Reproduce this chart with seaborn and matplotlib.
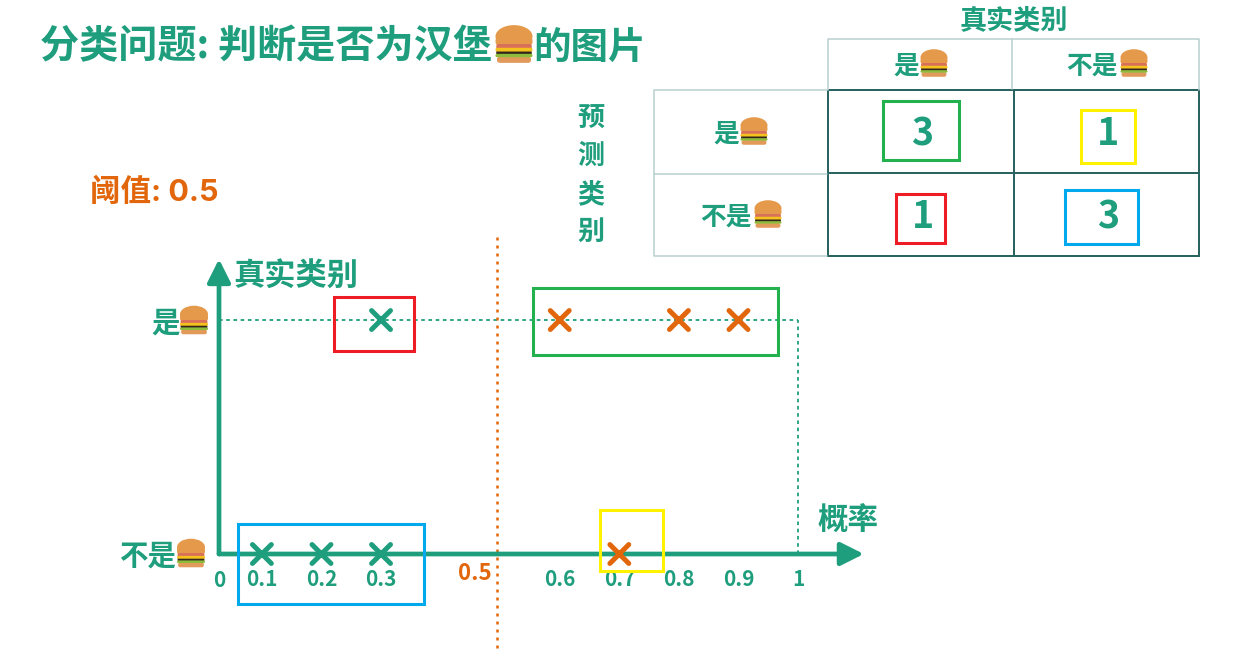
import pandas as pd
import seaborn as sns
import matplotlib.pyplot as plt
from matplotlib.colors import ListedColormap
from matplotlib.patches import Ellipse, FancyBboxPatch, Rectangle

# points
pos_probs = [0.3, 0.6, 0.8, 0.9]
neg_probs = [0.1, 0.2, 0.3, 0.7]
threshold = 0.5
threshold_line_x = 0.495
x_ticks = [0.1, 0.2, 0.3, 0.6, 0.7, 0.8, 0.9, 1.0]
x_tick_labels = ["0.1", "0.2", "0.3", "0.6", "0.7", "0.8", "0.9", "1"]
y_ticks = [0, 1]
y_tick_labels = ["不是", "是"]
confusion = [[3, 1], [1, 3]]
col_headers = ["是", "不是"]
row_headers = ["是", "不是"]

teal = "#1f9e7d"
orange = "#e2660b"
dark_line = "#2a6461"
light_line = "#b9cfcf"
red = "#ee1c25"
green = "#22b14c"
yellow = "#fff200"
blue = "#00a8ec"

W, H = 1246, 656

sns.set_theme(style="white")
plt.rcParams["font.family"] = ["Noto Sans CJK SC", "DejaVu Sans"]
plt.rcParams["font.weight"] = "bold"

df = pd.DataFrame({
    "prob": pos_probs + neg_probs,
    "truth": [1] * len(pos_probs) + [0] * len(neg_probs),
})
df["pred"] = ["yes" if p > threshold else "no" for p in df["prob"]]

fig = plt.figure(figsize=(W / 100, H / 100), dpi=100)


def px_axes(left, top, right, bottom):
    return fig.add_axes([left / W, 1 - bottom / H, (right - left) / W, (bottom - top) / H])


# main chart
ax = px_axes(219, 262, 860, 554)
sns.scatterplot(data=df, x="prob", y="truth", hue="pred", palette={"yes": orange, "no": teal},
                marker="x", s=185, linewidth=3.6, legend=False, ax=ax, clip_on=False, zorder=5,
                capstyle="round")
ax.set_xlim(0.028, 1.104)
ax.set_ylim(0, 1.248)
ax.set_xlabel("")
ax.set_ylabel("")
sns.despine(ax=ax, left=True, bottom=True)
ax.patch.set_alpha(0)

ax.set_xticks(x_ticks, x_tick_labels, color=teal, fontsize=15)
ax.tick_params(axis="x", length=0, pad=11)
ax.set_yticks(y_ticks, y_tick_labels, color=teal, fontsize=20.5)
ax.tick_params(axis="y", length=0)
ax.yaxis.get_major_ticks()[0].set_pad(31)
ax.yaxis.get_major_ticks()[1].set_pad(28)
ax.annotate("0", (0, 0), xycoords="axes fraction", xytext=(0, -19), textcoords="offset points",
            ha="center", va="center", color=teal, fontsize=15, annotation_clip=False)

# axis arrows
arrow = dict(arrowstyle="-|>,head_length=1.0,head_width=0.5", mutation_scale=14, color=teal, lw=3.4,
             shrinkA=0, shrinkB=0)
ax.annotate("", xy=(1.006, 0), xytext=(0, 0), xycoords="axes fraction", arrowprops=arrow, annotation_clip=False)
ax.annotate("", xy=(0, 1.01), xytext=(0, 0), xycoords="axes fraction", arrowprops=arrow, annotation_clip=False)

# guide lines
ax.plot([ax.get_xlim()[0], 1], [1, 1], color=teal, lw=1.3, ls=(0, (2, 2)), zorder=1)
ax.plot([1, 1], [0, 1], color=teal, lw=1.3, ls=(0, (2, 2)), zorder=1)
ax.plot([threshold_line_x] * 2, [-0.4, 1.354], color=orange, lw=1.8, ls=(0, (1.2, 2)), clip_on=False)
ax.annotate("0.5", (threshold_line_x, 0), xytext=(-16, -14), textcoords="offset points", ha="center",
            va="center", color=orange, fontsize=16, annotation_clip=False)

# confusion matrix
hm_ax = px_axes(828, 90, 1199, 256)
sns.heatmap(confusion, annot=True, fmt="d", cmap=ListedColormap(["white"]), cbar=False,
            linewidths=1.3, linecolor=dark_line, xticklabels=False, yticklabels=False,
            annot_kws={"color": teal, "fontsize": 27, "fontweight": "bold"}, ax=hm_ax)
hm_ax.collections[0].set_clip_on(False)
for t in hm_ax.texts:
    tx, ty = t.get_position()
    t.set_position((tx + 0.01, ty + 0.025))

# everything drawn in picture pixels
over = fig.add_axes([0, 0, 1, 1], zorder=10)
over.set_xlim(0, W)
over.set_ylim(H, 0)
over.axis("off")


def burger(cx, cy, w):
    h = w * 1.02
    top = cy - h / 2

    def band(y0, y1, color, inset=0.0, z=11):
        over.add_patch(FancyBboxPatch((cx - w / 2 + inset * w, top + y0 * h), w * (1 - 2 * inset),
                                      (y1 - y0) * h, boxstyle=f"round,pad=0,rounding_size={(y1 - y0) * h * 0.45}",
                                      fc=color, ec="none", zorder=z))

    over.add_patch(Ellipse((cx, top + 0.3 * h), w, 0.6 * h, fc="#e5994b", ec="none", zorder=11))
    band(0.3, 0.55, "#e5994b", 0.0, 11)
    band(0.5, 0.64, "#d9705a", 0.02, 12)
    band(0.6, 0.7, "#f4c21d", 0.0, 13)
    band(0.66, 0.8, "#33241c", 0.02, 12)
    band(0.76, 0.85, "#8dbb3c", 0.0, 13)
    band(0.83, 1.0, "#e29a5a", 0.04, 12)


over.text(40, 47, "分类问题: 判断是否为汉堡", color=teal, fontsize=28.2, va="center", ha="left")
burger(514, 44, 37)
over.text(533, 47, "的图片", color=teal, fontsize=27, va="center", ha="left")
over.text(90, 192, "阈值: 0.5", color=orange, fontsize=22, va="center", ha="left",
          family=["Inter", "Noto Sans CJK SC"])
over.text(233, 277, "真实类别", color=teal, fontsize=22.5, va="center", ha="left")
over.text(817, 521, "概率", color=teal, fontsize=22, va="center", ha="left")
over.text(1014, 20, "真实类别", color=teal, fontsize=19.5, va="center", ha="center")
over.text(591, 175, "\n".join("预测类别"), color=teal, fontsize=19.5, va="center", ha="center", linespacing=1.46)

# table headers, the sides shared with the matrix stay dark
over.plot([828, 828, 1199, 1199], [90, 39, 39, 90], color=light_line, lw=1.1)
over.plot([1012, 1012], [39, 89], color=light_line, lw=1.1)
over.plot([827, 654, 654, 827], [90, 90, 256, 256], color=light_line, lw=1.1)
over.plot([654, 827], [174, 174], color=light_line, lw=1.1)

over.text(906, 66, col_headers[0], color=teal, fontsize=18.5, va="center", ha="center")
burger(934, 63, 27)
over.text(1092, 66, col_headers[1], color=teal, fontsize=18.5, va="center", ha="center")
burger(1134, 63, 27)
over.text(726, 134, row_headers[0], color=teal, fontsize=18.5, va="center", ha="center")
burger(754, 131, 27)
over.text(726, 217, row_headers[1], color=teal, fontsize=18.5, va="center", ha="center")
burger(768, 214, 27)

# burgers beside the y labels
burger(194, 320, 28)
burger(191, 553, 28)

# highlight boxes: left, top, right, bottom, colour
boxes = [
    (334, 297, 414, 351, red), (533, 288, 778, 355, green),
    (238, 524, 424, 604, blue), (600, 510, 663, 571, yellow),
    (883, 101, 959, 160, green), (1081, 110, 1135, 163, yellow),
    (896, 194, 945, 243, red), (1065, 190, 1138, 244, blue),
]
for x0, y0, x1, y1, c in boxes:
    over.add_patch(Rectangle((x0, y0), x1 - x0, y1 - y0, fc="none", ec=c, lw=2.2, zorder=9))

fig.savefig("out.png", dpi=100, facecolor="white")
